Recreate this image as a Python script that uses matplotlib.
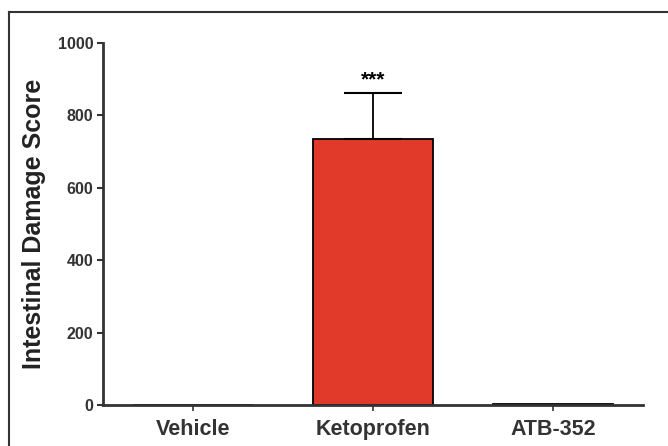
import matplotlib.pyplot as plt
from matplotlib.lines import Line2D

plt.rcParams['font.family'] = ['Liberation Sans', 'DejaVu Sans']
plt.rcParams['font.weight'] = 'bold'

groups = ['Vehicle', 'Ketoprofen', 'ATB-352']
scores = [0, 735, 3]
sem_up = [0, 127, 0]
yticks = [0, 200, 400, 600, 800, 1000]

fig = plt.figure(figsize=(6.68, 4.46), dpi=100)
ax = fig.add_axes([0.154, 0.092, 0.809, 0.812])

x = range(len(groups))
ax.bar(x, scores, width=0.667, color=['white', '#e23a2a', 'white'],
       edgecolor='black', linewidth=1.3, zorder=2)
ax.errorbar([1], [scores[1]], yerr=[[0], [sem_up[1]]], fmt='none',
            ecolor='black', elinewidth=1.3, capsize=21, capthick=1.5, zorder=3)
ax.text(1, scores[1] + sem_up[1] + 10, '***', ha='center', va='bottom',
        fontsize=15, fontweight='bold')

ax.set_xlim(-0.5, 2.5)
ax.set_ylim(0, 1000)
ax.set_yticks(yticks)
ax.set_xticks(list(x))
ax.set_xticklabels(groups, fontsize=15.5, fontweight='bold', color='#222222')
ax.tick_params(axis='y', labelsize=11.5, width=1.5, length=4, pad=3,
               colors='#333333')
ax.tick_params(axis='x', width=1.2, length=4, pad=6, colors='#333333')
ax.set_ylabel('Intestinal Damage Score', fontsize=18, fontweight='bold',
              color='#222222', labelpad=8)

for side in ['top', 'right']:
    ax.spines[side].set_visible(False)
for side in ['left', 'bottom']:
    ax.spines[side].set_linewidth(2)
    ax.spines[side].set_color('#333333')

# outer frame (only top and left edges visible in the original crop)
fig.add_artist(Line2D([9 / 668, 1], [1 - 12 / 446, 1 - 12 / 446],
                      transform=fig.transFigure, color='#333333', lw=1.5))
fig.add_artist(Line2D([9 / 668, 9 / 668], [0, 1 - 12 / 446],
                      transform=fig.transFigure, color='#333333', lw=1.5))

fig.savefig('out.png', dpi=100)
